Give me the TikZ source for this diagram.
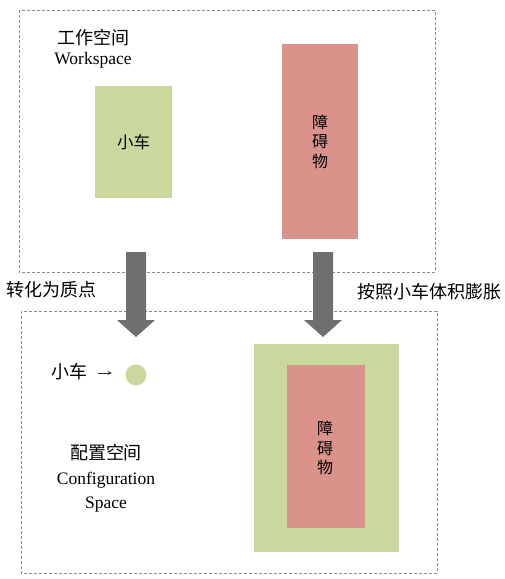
\documentclass[tikz,border=0pt]{standalone}
\usepackage{fontspec}
\setmainfont{Liberation Serif}
\newfontfamily\cjk{Noto Sans CJK SC}
\usetikzlibrary{arrows.meta}
\definecolor{cargreen}{HTML}{C9D89C}
\definecolor{obsred}{HTML}{D9938B}
\definecolor{arrowgray}{HTML}{6F6F6F}
\definecolor{bordergray}{HTML}{8C8C8C}
\tikzset{
  region/.style={draw=bordergray, line width=0.9pt, dash pattern=on 3pt off 2pt},
  block/.style={inner sep=0pt, anchor=north west, draw=none},
  lbl/.style={inner sep=0pt, font=\fontsize{17.5}{21}\selectfont},
  cjklbl/.style={inner sep=0pt, font=\fontsize{18}{21}\selectfont\cjk},
  vlbl/.style={inner sep=0pt, align=center, font=\fontsize{16}{19.5}\selectfont\cjk},
  bigarrow/.style={fill=arrowgray, draw=none},
}
\begin{document}
\begin{tikzpicture}[x=1pt, y=-1pt]
\useasboundingbox (0,0) rectangle (504,579);
% regions
\draw[region] (19,10) rectangle (435,272);
\draw[region] (21,311) rectangle (437,573);
% workspace title
\node[cjklbl] (wst) at (93,38) {工作空间};
\node[lbl] (wse) at (93,60) {Workspace};
% car and obstacle in workspace
\node[block, fill=cargreen, minimum width=77pt, minimum height=112pt] (car) at (95,86) {};
\node[cjklbl, font=\fontsize{16.5}{19}\selectfont\cjk] at (car.center) {小车};
\node[block, fill=obsred, minimum width=76pt, minimum height=195pt] (obs) at (282,44) {};
\node[vlbl] at (obs.center) {障\\碍\\物};
% big arrows
\coordinate (la) at (136,252);
\coordinate (ra) at (323,252);
\fill[bigarrow] ([xshift=-10pt]la) -- ([xshift=10pt]la) -- ++(0,68) -- ++(9,0) -- (136,337) -- (117,320) -- (126,320) -- cycle;
\fill[bigarrow] ([xshift=-10pt]ra) -- ([xshift=10pt]ra) -- ++(0,68) -- ++(9,0) -- (323,337) -- (304,320) -- (313,320) -- cycle;
\node[cjklbl] (conv) at (51,290) {转化为质点};
\node[cjklbl] (infl) at (429,292) {按照小车体积膨胀};
% configuration space
\node[cjklbl] (cart) at (70,372) {小车};
\node[circle, fill=cargreen, minimum size=21pt, inner sep=0pt] (pt) at (136,375) {};
\draw[-{Stealth[length=4.5pt,width=4pt]}, line width=0.9pt, black!80] (98,373) coordinate (sa) -- (112,373) coordinate (sb);
\node[block, fill=cargreen, minimum width=145pt, minimum height=208pt] (cobs) at (254,344) {};
\node[block, fill=obsred, minimum width=78pt, minimum height=163pt] (iobs) at (287,365) {};
\node[vlbl] at (325,448) {障\\碍\\物};
\node[cjklbl] (cst) at (106,453) {配置空间};
\node[lbl] (cse) at (106,480) {Configuration};
\node[lbl] (csp) at (106,505) {Space};
\end{tikzpicture}
\end{document}
